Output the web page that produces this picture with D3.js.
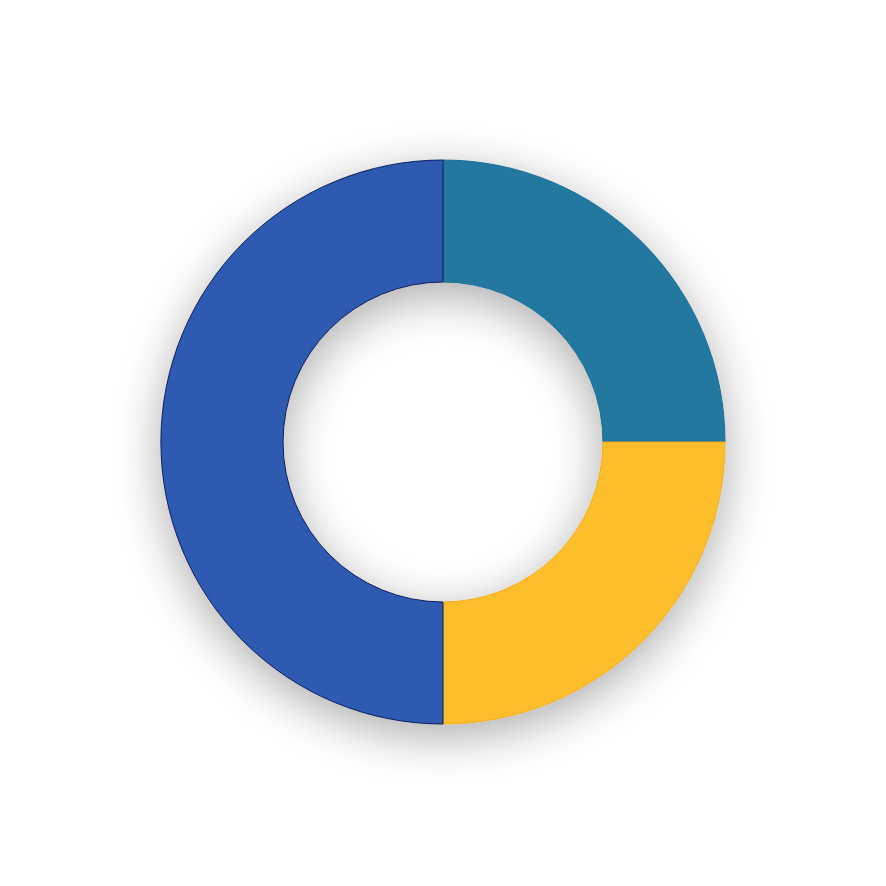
<!DOCTYPE html>
<html><head><meta charset="utf-8">
<script src="https://cdn.jsdelivr.net/npm/d3@7"></script>
<style>html,body{margin:0;padding:0;background:#fff;}svg{display:block;}</style>
</head><body>
<script>
const categories = ["A", "B", "C"];
const values = [25, 25, 50];
const colors = ["#21789F", "#FCBE2B", "#2D5AB1"];
const strokes = ["#1E6E95", "#F2AA1C", "#0B1E5A"];

const W = 886, H = 886, cx = 443, cy = 442, rOuter = 282, rInner = 160;
const svg = d3.select("body").append("svg").attr("width", W).attr("height", H);
const defs = svg.append("defs");
const f = defs.append("filter").attr("id", "sh").attr("x", "-50%").attr("y", "-50%").attr("width", "200%").attr("height", "200%");
f.append("feGaussianBlur").attr("in", "SourceAlpha").attr("stdDeviation", 24);
f.append("feOffset").attr("dx", 0).attr("dy", 12).attr("result", "b");
f.append("feComponentTransfer").append("feFuncA").attr("type", "linear").attr("slope", 0.33);
const m = f.append("feMerge");
m.append("feMergeNode");
m.append("feMergeNode").attr("in", "SourceGraphic");

const pie = d3.pie().sort(null).value(d => d)(values);
const arc = d3.arc().innerRadius(rInner).outerRadius(rOuter);
const g = svg.append("g").attr("transform", `translate(${cx},${cy})`).attr("filter", "url(#sh)");
g.selectAll("path").data(pie).join("path")
  .attr("d", arc)
  .attr("fill", (d, i) => colors[i])
  .attr("stroke", (d, i) => strokes[i])
  .attr("stroke-width", 1);
</script>
</body></html>
